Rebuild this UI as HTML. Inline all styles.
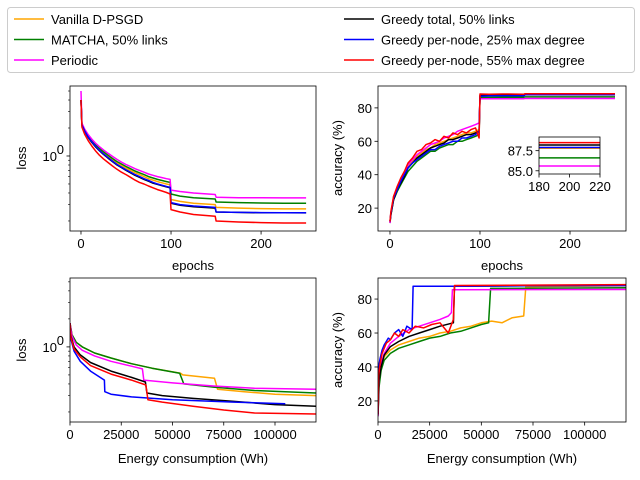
<!DOCTYPE html>
<html><head><meta charset="utf-8"><style>
html,body{margin:0;padding:0;background:#fff;width:640px;height:480px;overflow:hidden;}
svg{display:block;font-family:"Liberation Sans","DejaVu Sans",sans-serif;}
text{font-size:13px;fill:#000;}
</style></head><body>
<svg id="fig" width="640" height="480" viewBox="0 0 640 480">
<rect x="0" y="0" width="640" height="480" fill="#fff"/>
<g id="legend">
<rect x="7.5" y="7.5" width="627" height="65" fill="#fff" stroke="#ccc" rx="3"/>
</g>
</svg>
<script>
// ---------- data ----------
const seriesNames = ["Vanilla D-PSGD","MATCHA, 50% links","Periodic","Greedy total, 50% links","Greedy per-node, 25% max degree","Greedy per-node, 55% max degree"];
const seriesColors = ["orange","green","magenta","black","blue","red"];
const seriesKeys = ["vanilla","matcha","periodic","greedyTotal","greedy25","greedy55"];

const epochs = [0,1,4,8,12,16,20,25,30,35,40,45,50,55,60,65,70,75,80,85,90,95,99,100,110,125,149,150,175,200,225,250];

const lossVanilla = [4.0,2.2,1.88,1.62,1.44,1.3,1.19,1.08,0.99,0.91,0.84,0.79,0.74,0.70,0.66,0.63,0.60,0.57,0.55,0.53,0.515,0.50,0.49,0.34,0.325,0.31,0.30,0.28,0.275,0.272,0.27,0.27];
const lossMatcha = [4.0,2.2,1.9,1.65,1.47,1.33,1.22,1.11,1.02,0.94,0.87,0.82,0.77,0.73,0.69,0.66,0.63,0.60,0.58,0.56,0.545,0.53,0.52,0.39,0.37,0.355,0.345,0.32,0.315,0.312,0.31,0.31];
const lossPeriodic = [5.0,2.25,1.95,1.7,1.52,1.38,1.27,1.16,1.07,0.99,0.92,0.86,0.81,0.77,0.73,0.70,0.67,0.64,0.62,0.60,0.585,0.57,0.56,0.43,0.415,0.40,0.385,0.36,0.355,0.355,0.354,0.354];
const lossGreedyTotal = [4.0,2.15,1.85,1.58,1.4,1.26,1.15,1.04,0.95,0.87,0.8,0.75,0.7,0.66,0.62,0.59,0.56,0.535,0.51,0.495,0.48,0.465,0.455,0.31,0.295,0.285,0.275,0.25,0.247,0.245,0.245,0.244];
const lossGreedy25 = [3.9,2.15,1.86,1.6,1.42,1.28,1.16,1.05,0.96,0.88,0.81,0.76,0.71,0.67,0.63,0.60,0.57,0.545,0.52,0.5,0.485,0.47,0.46,0.315,0.3,0.29,0.28,0.25,0.247,0.246,0.245,0.245];
const lossGreedy55 = [4.0,2.05,1.72,1.46,1.28,1.14,1.03,0.93,0.85,0.78,0.72,0.67,0.63,0.59,0.55,0.52,0.5,0.475,0.455,0.435,0.42,0.405,0.39,0.265,0.25,0.235,0.225,0.2,0.195,0.192,0.19,0.19];

const accVanilla = [12,17,27,32,37,41,45,48,51,53,55,56,58,59,60,61,62,63,64,65,65,66,67,87.2,87.3,87.4,87.4,87.8,87.8,87.8,87.8,87.8];
const accMatcha = [11,16,25,30,34,38,42,45,48,50,52,54,54,56,57,58,58,60,60,61,62,63,64,86.3,86.3,86.4,86.4,86.6,86.6,86.6,86.6,86.6];
const accPeriodic = [11,17,26,32,37,41,46,49,52,54,56,58,59,60,62,63,64,66,67,68,69,70,71,85.5,85.5,85.5,85.5,85.6,85.6,85.6,85.6,85.6];
const accGreedyTotal = [12,16,25,31,35,39,44,47,50,52,54,56,57,58,59,61,61,62,63,64,64,65,66,87.5,87.6,87.7,87.7,88.2,88.2,88.2,88.2,88.2];
const accGreedy25 = [12,17,26,31,36,40,44,47,49,51,53,55,55,57,58,59,60,60,62,62,63,64,66,87.0,87.2,87.3,87.3,87.9,87.9,87.9,87.9,87.9];
const accGreedy55 = [12,18,27,33,38,42,47,50,54,55,58,59,61,60,63,62,65,64,66,65,67,68,62,88.3,88.2,88.3,88.2,88.5,88.5,88.5,88.5,88.5];

const energyLossVanillaE = [0,1000,3000,6000,12000,20000,30000,40000,54000,55000,70500,72000,85000,100000,120000];
const energyLossVanillaL = [1.8,1.35,1.12,1.0,0.86,0.76,0.66,0.59,0.52,0.5,0.46,0.35,0.33,0.31,0.3];
const energyLossMatchaE = [0,1000,3000,6000,12000,20000,30000,40000,53500,55500,70000,90000,120000];
const energyLossMatchaL = [1.8,1.35,1.12,1.0,0.86,0.76,0.66,0.59,0.52,0.4,0.37,0.34,0.32];
const energyLossPeriodicE = [0,1000,3000,6000,12000,20000,30000,35300,36000,50000,70000,90000,120000];
const energyLossPeriodicL = [1.8,1.3,1.05,0.92,0.8,0.7,0.62,0.58,0.44,0.41,0.38,0.36,0.35];
const energyLossGreedyTotalE = [0,500,2000,5000,10000,20000,30000,36800,37500,45000,60000,80000,100000,120000];
const energyLossGreedyTotalL = [1.8,1.3,1.0,0.82,0.68,0.55,0.47,0.42,0.32,0.3,0.28,0.26,0.24,0.23];
const energyLossGreedy25E = [0,500,2000,5000,10000,16800,17000,20000,30000,50000,80000,105000];
const energyLossGreedy25L = [1.8,1.2,0.9,0.7,0.55,0.44,0.33,0.31,0.29,0.27,0.255,0.245];
const energyLossGreedy55E = [0,500,2000,5000,10000,20000,30000,37000,38000,45000,60000,75000,90000,120000];
const energyLossGreedy55L = [1.8,1.25,0.95,0.78,0.63,0.51,0.44,0.39,0.27,0.255,0.23,0.21,0.195,0.19];

const energyAccVanillaE = [0,500,1500,3000,6000,10000,15000,20000,25000,30000,35000,40000,45000,50000,55000,60000,65000,70500,71500,120000];
const energyAccVanillaA = [12,30,40,46,50,53,55,57,58,60,61,63,64,66,67,66,69,70,87.2,87.8];
const energyAccMatchaE = [0,500,1500,3000,6000,10000,15000,20000,25000,30000,35000,40000,45000,50000,53500,54500,120000];
const energyAccMatchaA = [11,28,38,44,48,51,53,55,57,58,60,61,63,65,66,86.3,86.6];
const energyAccPeriodicE = [0,500,1500,3000,6000,10000,15000,20000,25000,30000,34000,35500,36000,120000];
const energyAccPeriodicA = [11,33,42,48,54,58,62,64,66,68,70,72,85.5,85.6];
const energyAccGreedyTotalE = [0,500,1500,3000,6000,10000,15000,20000,25000,30000,36500,37000,120000];
const energyAccGreedyTotalA = [12,32,40,47,52,55,58,60,62,64,66,87.5,88.2];
const energyAccGreedy25E = [0,300,1000,2000,3000,4000,5000,6000,8000,10000,12000,14000,16500,17000,40000,80000,120000];
const energyAccGreedy25A = [12,40,45,50,53,55,57,56,60,62,58,64,62,87.5,87.5,87.9,87.9];
const energyAccGreedy55E = [0,300,1000,2000,4000,6000,8000,10000,12000,15000,18000,22000,26000,30000,34000,36500,37000,120000];
const energyAccGreedy55A = [12,35,42,48,54,56,60,58,62,60,64,63,65,66,60,68,88,88.5];

const lossTicks = [1];
const epochTicks = [0,100,200];
const accTicks = [20,40,60,80];
const energyTicks = [0,25000,50000,75000,100000];
const energyTickLabels = ["0","25000","50000","75000","100000"];
const insetXTicks = [180,200,220];
const insetYTicks = [85.0,87.5];

// ---------- drawing ----------
const NS="http://www.w3.org/2000/svg";
const fig=document.getElementById('fig');
function el(tag,attrs,parent){const e=document.createElementNS(NS,tag);for(const k in attrs)e.setAttribute(k,attrs[k]);(parent||fig).appendChild(e);return e;}
let clipId=0;
function makeAxes(name,x0,x1,y0,y1,xmin,xmax,ymin,ymax,log){
  const g=el('g',{});
  
  
  const sx=v=>x0+(v-xmin)/(xmax-xmin)*(x1-x0);
  const sy=log?(v=>y1-(Math.log10(v)-Math.log10(ymin))/(Math.log10(ymax)-Math.log10(ymin))*(y1-y0)):(v=>y1-(v-ymin)/(ymax-ymin)*(y1-y0));
  const id='clip'+(clipId++);
  const cp=el('clipPath',{id:id},g);el('rect',{x:x0,y:y0,width:x1-x0,height:y1-y0},cp);
  const lines=el('g',{'clip-path':'url(#'+id+')'},g);
  return {g,sx,sy,lines,x0,x1,y0,y1,ymin,ymax,log};
}
function frame(ax){el('rect',{x:ax.x0,y:ax.y0,width:ax.x1-ax.x0,height:ax.y1-ax.y0,fill:'none',stroke:'#000','stroke-width':0.8},ax.g);}
function xticks(ax,vals,labels,fs){
  vals.forEach((v,i)=>{const x=ax.sx(v);
    el('line',{x1:x,x2:x,y1:ax.y1,y2:ax.y1+3.5,stroke:'#000','stroke-width':0.8},ax.g);
    const t=el('text',{x:x,y:ax.y1+17,'text-anchor':'middle','font-size':fs||13.9},ax.g);
    
    
    t.textContent=labels?labels[i]:String(v);});
}
function yticks(ax,vals,labels,fs){
  vals.forEach((v,i)=>{const y=ax.sy(v);
    el('line',{x1:ax.x0-3.5,x2:ax.x0,y1:y,y2:y,stroke:'#000','stroke-width':0.8},ax.g);
    const t=el('text',{x:ax.x0-6,y:y+5,'text-anchor':'end','font-size':fs||13.9},ax.g);
    
    
    t.textContent=labels?labels[i]:String(v);});
}
function logTicks(ax){
  for(let d=-2;d<=1;d++){for(let m=1;m<10;m++){const v=m*Math.pow(10,d);
    if(v<ax.ymin||v>ax.ymax)continue;const y=ax.sy(v);
    if(m===1&&d===0){el('line',{x1:ax.x0-3.5,x2:ax.x0,y1:y,y2:y,stroke:'#000','stroke-width':0.8},ax.g);
      const t=el('text',{x:ax.x0-13,y:y+5,'text-anchor':'end','font-size':13.9},ax.g);
      
      
      t.textContent='10';
      const s=el('text',{x:ax.x0-6,y:y-2,'text-anchor':'end','font-size':9.7},ax.g);s.textContent='0';}
    else el('line',{x1:ax.x0-2,x2:ax.x0,y1:y,y2:y,stroke:'#000','stroke-width':0.6},ax.g);}}
}
function line(ax,xs,ys,color,name){
  const pts=xs.map((x,i)=>ax.sx(x).toFixed(1)+','+ax.sy(ys[i]).toFixed(1)).join(' ');
  const p=el('polyline',{points:pts,fill:'none',stroke:color,'stroke-width':1.5,'stroke-linejoin':'round'},ax.lines);
  
  
}
function label(text,x,y,rot,name){
  const t=el('text',{x:x,y:y,'text-anchor':'middle','font-size':13.9,transform:rot?`rotate(-90 ${x} ${y})`:''});
  
  
  t.textContent=text;
}

// top-left loss vs epochs
const lossSeries=[lossVanilla,lossMatcha,lossPeriodic,lossGreedyTotal,lossGreedy25,lossGreedy55];
const a1=makeAxes('loss-epochs-plot',70,316,86,231,-12.2,261,0.156,5.66,true);
lossSeries.forEach((s,i)=>line(a1,epochs,s,seriesColors[i],'loss-line-'+seriesKeys[i]));
frame(a1);xticks(a1,epochTicks);logTicks(a1);
label('epochs',193,270,false,'x-axis-title');label('loss',26,158,true,'y-axis-title');

// top-right accuracy vs epochs
const accSeries=[accVanilla,accMatcha,accPeriodic,accGreedyTotal,accGreedy25,accGreedy55];
const a2=makeAxes('accuracy-epochs-plot',378,626,86,231,-13.3,262.2,6.3,93.1,false);
accSeries.forEach((s,i)=>line(a2,epochs,s,seriesColors[i],'acc-line-'+seriesKeys[i]));
frame(a2);xticks(a2,epochTicks);yticks(a2,accTicks);
label('epochs',502,270,false,'x-axis-title');label('accuracy (%)',342,158,true,'y-axis-title');

// inset
const a3=makeAxes('accuracy-inset',539,600,137,174,180,220,84.6,89.2,false);
el('rect',{x:539,y:137,width:61,height:37,fill:'#fff'},a3.g);
a3.g.appendChild(a3.lines);
accSeries.forEach((s,i)=>line(a3,epochs,s,seriesColors[i],'inset-line-'+seriesKeys[i]));
frame(a3);xticks(a3,insetXTicks);yticks(a3,insetYTicks,["85.0","87.5"]);

// bottom-left loss vs energy
const eLossE=[energyLossVanillaE,energyLossMatchaE,energyLossPeriodicE,energyLossGreedyTotalE,energyLossGreedy25E,energyLossGreedy55E];
const eLossL=[energyLossVanillaL,energyLossMatchaL,energyLossPeriodicL,energyLossGreedyTotalL,energyLossGreedy25L,energyLossGreedy55L];
const a4=makeAxes('loss-energy-plot',70,316,278,422,0,120000,0.156,5.5,true);
eLossE.forEach((e,i)=>line(a4,e,eLossL[i],seriesColors[i],'energy-loss-line-'+seriesKeys[i]));
frame(a4);xticks(a4,energyTicks,energyTickLabels);logTicks(a4);
label('Energy consumption (Wh)',193,463,false,'x-axis-title');label('loss',26,350,true,'y-axis-title');

// bottom-right accuracy vs energy
const eAccE=[energyAccVanillaE,energyAccMatchaE,energyAccPeriodicE,energyAccGreedyTotalE,energyAccGreedy25E,energyAccGreedy55E];
const eAccA=[energyAccVanillaA,energyAccMatchaA,energyAccPeriodicA,energyAccGreedyTotalA,energyAccGreedy25A,energyAccGreedy55A];
const a5=makeAxes('accuracy-energy-plot',378,626,278,422,0,120000,7.6,92.4,false);
eAccE.forEach((e,i)=>line(a5,e,eAccA[i],seriesColors[i],'energy-acc-line-'+seriesKeys[i]));
frame(a5);xticks(a5,energyTicks,energyTickLabels);yticks(a5,accTicks);
label('Energy consumption (Wh)',502,463,false,'x-axis-title');label('accuracy (%)',342,350,true,'y-axis-title');

// legend
const lg=document.getElementById('legend');
seriesNames.forEach((n,i)=>{
  const col=i<3?0:1,row=i%3;
  const lx=col?344:14,ly=19+row*20.5;
  const ge=el('g',{},lg);
  
  
  el('line',{x1:lx,x2:lx+30,y1:ly,y2:ly,stroke:seriesColors[i],'stroke-width':1.5},ge);
  const t=el('text',{x:lx+37,y:ly+5,'font-size':13.9},ge);t.textContent=n;
});
</script>
</body></html>
